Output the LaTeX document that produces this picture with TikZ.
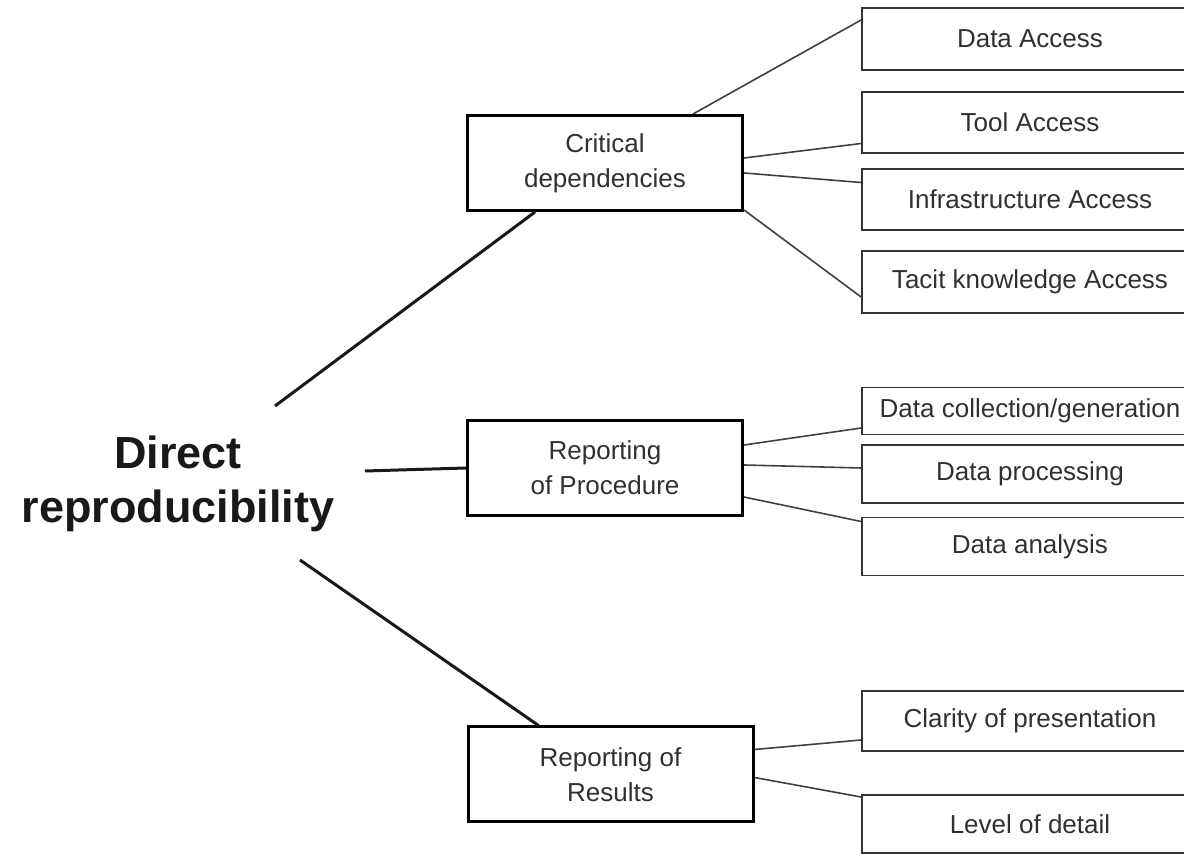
\documentclass[tikz,border=0pt]{standalone}
\usepackage{fontspec}
\setmainfont{Liberation Sans}
\usepackage{xcolor}
\usepackage{tikz}
\usetikzlibrary{calc}
\definecolor{boxtext}{HTML}{303030}
\tikzstyle{main} = [align=center, inner sep=0pt, text=black!90, font=\bfseries\fontsize{22.5}{27}\selectfont]
\tikzstyle{group} = [draw, line width=1.5pt, minimum width=137.5pt, minimum height=47.5pt, align=center, text=boxtext, font=\fontsize{13}{17.5}\selectfont]
\tikzstyle{item} = [draw=black!80, line width=0.9pt, minimum width=168pt, align=center, text=boxtext, font=\fontsize{13}{15}\selectfont]
\tikzstyle{twig} = [line width=0.8pt, draw=black!75]
\tikzstyle{branch} = [line width=1.5pt, draw=black!90]

\begin{document}
\begin{tikzpicture}[x=0.5pt,y=-0.5pt]
\useasboundingbox (0,0) rectangle (1184,854);
\clip (0,0) rectangle (1184,854);
\node (dr) at (178,484) [main] {Direct\\reproducibility};
\node (cd) at (605,163) [group] {Critical\\dependencies};
\node (rp) at (605,468) [group] {Reporting\\of Procedure};
\node (rr) at (610.5,774.5) [group, minimum width=142.5pt] {Reporting of\\Results};
\node (da) at (1030,39) [item, minimum height=31pt] {Data Access};
\node (ta) at (1030,122.5) [item, minimum height=30.5pt] {Tool Access};
\node (ia) at (1030,199.5) [item, minimum height=30.5pt] {Infrastructure Access};
\node (tk) at (1030,282) [item, minimum height=31pt] {Tacit knowledge Access};
\node (dc) at (1030,411) [item, minimum height=23.5pt] {Data collection/generation};
\node (dp) at (1030,474) [item, minimum height=29pt] {Data processing};
\node (an) at (1030,546.5) [item, minimum height=29pt] {Data analysis};
\node (cp) at (1030,721) [item, minimum height=30pt] {Clarity of presentation};
\node (ld) at (1030,824) [item, minimum height=29pt] {Level of detail};
\coordinate (s1) at (275,406);
\coordinate (s2) at (365,471);
\coordinate (s3) at (300,560);
\draw[branch] (s1) -- ($(cd.south)+(-70,0)$);
\draw[branch] (s2) -- (rp.west);
\draw[branch] (s3) -- ($(rr.north)+(-72,0)$);
\draw[twig] ($(cd.north)+(88,0)$) -- ($(da.west)+(0,-19)$);
\draw[twig] ($(cd.east)+(0,-5)$) -- ($(ta.west)+(0,21)$);
\draw[twig] ($(cd.east)+(0,10)$) -- ($(ia.west)+(0,-17)$);
\draw[twig] ($(cd.east)+(0,47)$) -- ($(tk.west)+(0,15)$);
\draw[twig] ($(rp.east)+(0,-23)$) -- ($(dc.west)+(0,17)$);
\draw[twig] ($(rp.east)+(0,-3)$) -- ($(dp.west)+(0,-6)$);
\draw[twig] ($(rp.east)+(0,29)$) -- ($(an.west)+(0,-25)$);
\draw[twig] ($(rr.east)+(0,-25)$) -- ($(cp.west)+(0,19)$);
\draw[twig] ($(rr.east)+(0,3)$) -- ($(ld.west)+(0,-27)$);
\end{tikzpicture}
\end{document}
